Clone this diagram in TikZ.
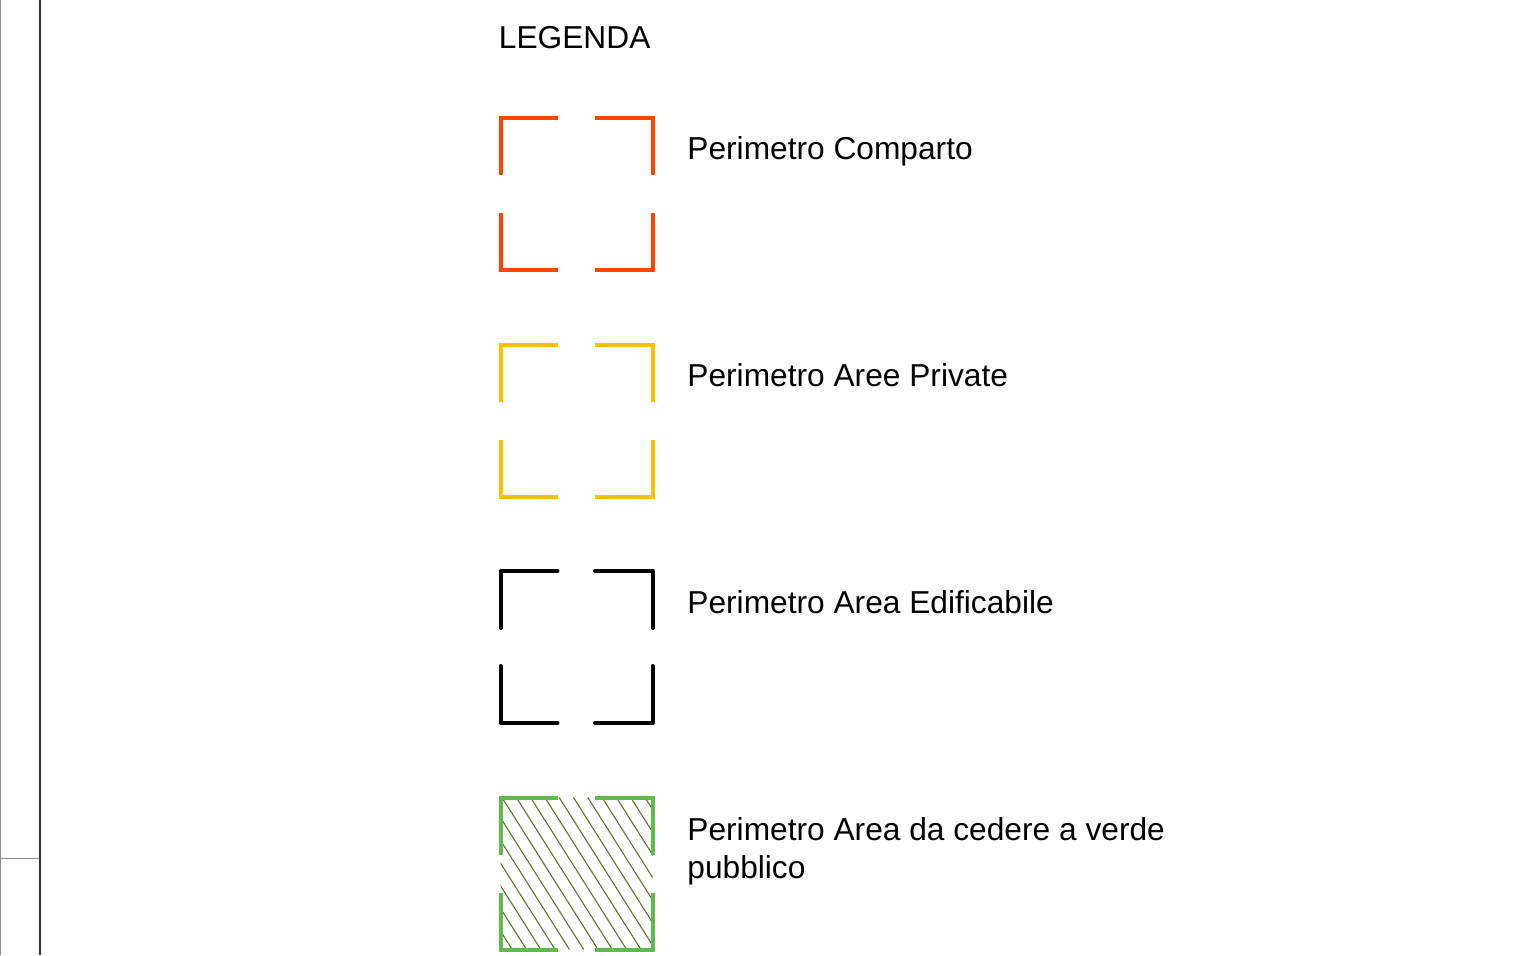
\documentclass[tikz,border=0pt]{standalone}
\usepackage{fontspec}
\setmainfont{Liberation Sans}
\definecolor{orangeP}{RGB}{255,69,0}
\definecolor{yellowP}{RGB}{255,192,0}
\definecolor{greenP}{RGB}{95,187,75}
\definecolor{hatchP}{RGB}{110,110,50}
\definecolor{frameD}{RGB}{50,50,50}
\definecolor{frameL}{RGB}{140,140,140}
\tikzset{
  legtext/.style={anchor=base west, inner sep=0pt, font=\fontsize{15.85}{19}\selectfont, align=left},
  bracket/.style={line width=2pt},
  pics/cornerbox/.style={code={
    \draw[bracket,#1] (0,57) -- (0,0) -- (57,0);
    \draw[bracket,#1] (94.5,0) -- (152,0) -- (152,57);
    \draw[bracket,#1] (152,95) -- (152,152) -- (94.5,152);
    \draw[bracket,#1] (57,152) -- (0,152) -- (0,95);
  }},
}
\begin{document}
\begin{tikzpicture}[x=0.5pt,y=-0.5pt]
\useasboundingbox (0,0) rectangle (1533,955);
% frame lines on the left
\draw[frameL, line width=0.5pt] (0.5,0) -- (0.5,955);
\draw[frameL, line width=0.5pt] (0,858) -- (40,858);
\draw[frameD, line width=1.1pt] (40,0) -- (40,955);
% title
\node[legtext] (title) at (498.5,48) {LEGENDA};
% boxes
\pic[line join=miter] at (500.5,117.5) {cornerbox=orangeP};
\pic at (500.5,344.5) {cornerbox=yellowP};
\pic[line cap=round, line join=round] at (500.5,571) {cornerbox=black};
% hatched green box
\begin{scope}
  \clip (500.5,797.5) rectangle (652.5,949.5);
  \foreach \k in {-8,...,11} {
    \draw[hatchP, line width=0.55pt] ({502+14.3*\k},797.5) -- ({502+14.3*\k+96},949.5);
  }
\end{scope}
\pic at (500.5,797.5) {cornerbox=greenP};
% labels
\node[legtext] (l1) at (687,159.5) {Perimetro Comparto};
\node[legtext] (l2) at (687,386.5) {Perimetro Aree Private};
\node[legtext] (l3) at (687,613.5) {Perimetro Area Edificabile};
\node[legtext, anchor=north west] (l4) at (687,817) {Perimetro Area da cedere a verde\\pubblico};
\end{tikzpicture}
\end{document}
